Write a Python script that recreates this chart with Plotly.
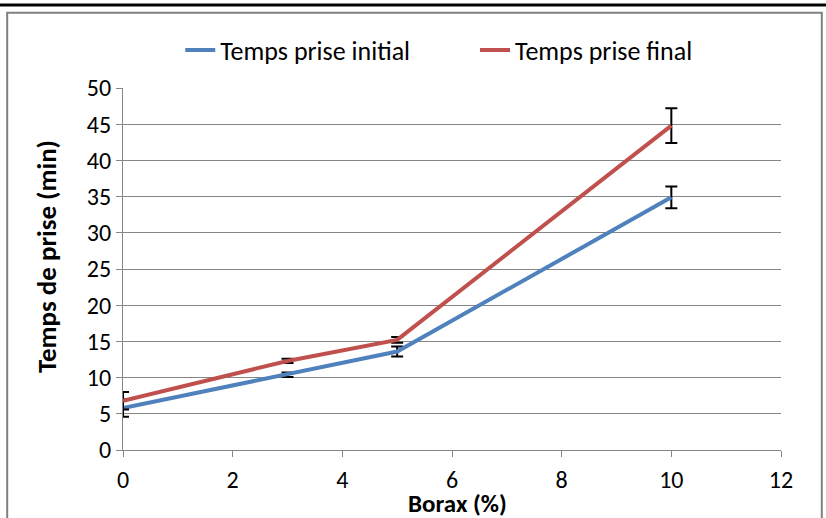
import plotly.graph_objects as go

borax = [0, 3, 5, 10]
initial = [5.8, 10.4, 13.6, 34.9]
initial_err = [1.2, 0.3, 0.7, 1.5]
final = [6.8, 12.3, 15.2, 44.8]
final_err = [1.2, 0.3, 0.4, 2.4]

x_title = "Borax (%)"
y_title = "Temps de prise (min)"

FONT = "Carlito, 'Liberation Sans Narrow', 'Open Sans', sans-serif"

fig = go.Figure()
fig.add_trace(go.Scatter(
    x=borax, y=initial, name="Temps prise initial", mode="lines",
    line=dict(color="#4F81BD", width=4), legend="legend",
    error_y=dict(type="data", array=initial_err, color="black", thickness=2, width=6),
))
fig.add_trace(go.Scatter(
    x=borax, y=final, name="Temps prise final", mode="lines",
    line=dict(color="#C0504D", width=4), legend="legend2",
    error_y=dict(type="data", array=final_err, color="black", thickness=2, width=6),
))

leg_common = dict(orientation="h", y=1.105, yanchor="middle", xanchor="left",
                  font=dict(size=26), bgcolor="rgba(0,0,0,0)", itemwidth=30)

fig.update_layout(
    width=826, height=518,
    margin=dict(l=123, r=45, t=88, b=68, autoexpand=False),
    paper_bgcolor="white", plot_bgcolor="white",
    font=dict(family=FONT, size=24, color="black"),
    showlegend=True,
    legend=dict(x=0.087, **leg_common),
    legend2=dict(x=0.535, **leg_common),
    xaxis=dict(range=[0, 12], dtick=2, showgrid=False, showline=True, linecolor="#868686",
               linewidth=1, ticks="outside", ticklen=6, tickcolor="#868686", automargin=False,
               ticklabelstandoff=2, zeroline=False, tickfont=dict(size=24)),
    yaxis=dict(range=[0, 50], dtick=5, showgrid=True, gridcolor="#868686", gridwidth=1,
               showline=True, linecolor="#868686", linewidth=1, ticks="outside", ticklen=6,
               tickcolor="#868686", zeroline=False, automargin=False),
    annotations=[
        dict(text="<b>" + x_title + "</b>", xref="paper", yref="paper", x=0.509, y=-0.149,
             xanchor="center", yanchor="middle", showarrow=False, font=dict(size=25)),
        dict(text="<b>" + y_title + "</b>", xref="paper", yref="paper", x=-0.117, y=0.533,
             xanchor="center", yanchor="middle", showarrow=False, textangle=-90,
             font=dict(size=27)),
    ],
    shapes=[
        dict(type="rect", xref="paper", yref="paper", x0=-0.176, x1=1.062, y0=-0.3, y1=1.208,
             line=dict(color="#808080", width=2), fillcolor="rgba(0,0,0,0)", layer="below"),
        dict(type="line", xref="paper", yref="paper", x0=-0.2, x1=1.1, y0=1.229, y1=1.229,
             line=dict(color="black", width=3)),
    ],
)

fig.write_html("out.html", config={"displayModeBar": False},
               post_script="document.body.style.margin='0';")
